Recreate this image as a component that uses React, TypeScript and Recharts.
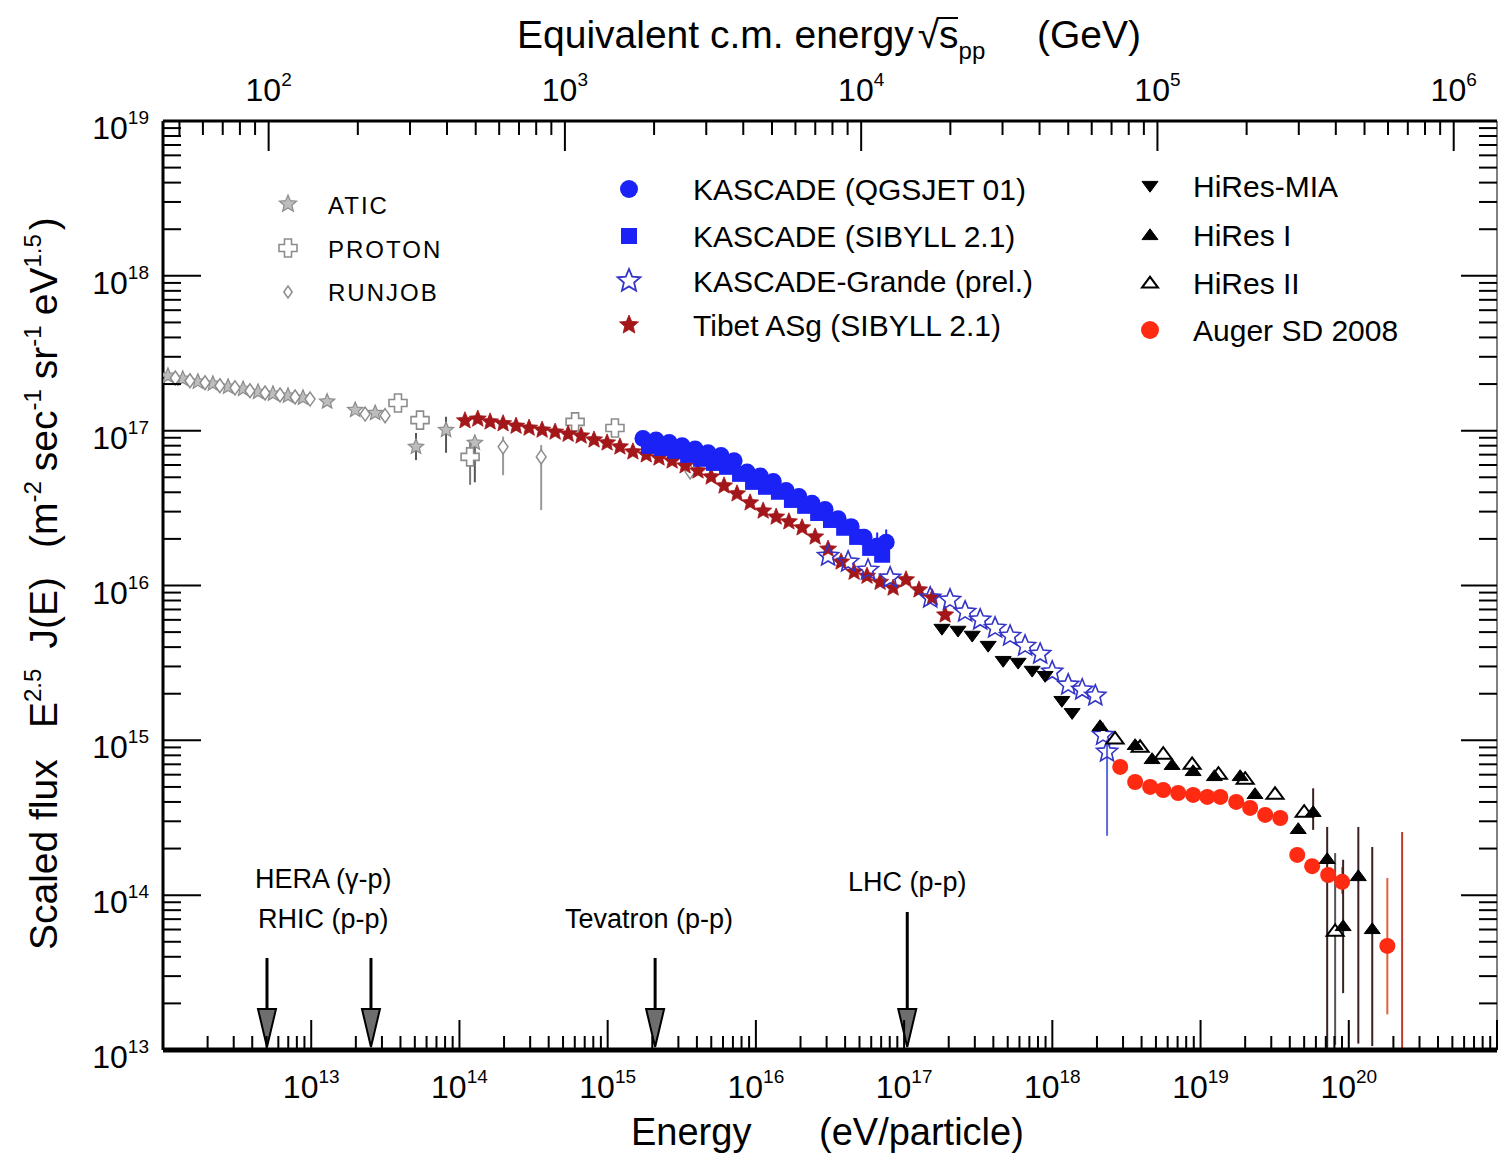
import React from 'react';
import { ScatterChart, Scatter, XAxis, YAxis, ErrorBar, ReferenceLine } from 'recharts';

const NARROW = '"Liberation Sans Narrow", "Liberation Sans", Arial, sans-serif';
const SANS = '"Liberation Sans", Arial, sans-serif';

// ---------------- data ----------------
const ATIC = [
  { e: 1.08e12, f: 2.26e17 }, { e: 1.36e12, f: 2.16e17 }, { e: 1.72e12, f: 2.07e17 },
  { e: 2.17e12, f: 2.01e17 }, { e: 2.75e12, f: 1.92e17 }, { e: 3.47e12, f: 1.86e17 },
  { e: 4.38e12, f: 1.78e17 }, { e: 5.52e12, f: 1.73e17 }, { e: 6.97e12, f: 1.68e17 },
  { e: 8.8e12, f: 1.63e17 }, { e: 1.28e13, f: 1.54e17 }, { e: 1.98e13, f: 1.36e17 },
  { e: 2.7e13, f: 1.3e17 },
  { e: 5.09e13, f: 7.86e16, err: [1.4e16, 1.8e16] },
  { e: 8.12e13, f: 1.01e17, err: [2.9e16, 2.2e16] },
  { e: 1.27e14, f: 8.34e16, err: [3.7e16, 0.8e16] },
];

const PROTON = [
  { e: 3.85e13, f: 1.51e17 }, { e: 5.42e13, f: 1.17e17 },
  { e: 1.18e14, f: 6.77e16, err: [2.3e16, 1.95e16] },
  { e: 6.03e14, f: 1.14e17 }, { e: 1.12e15, f: 1.04e17 },
];

const RUNJOB = [
  { e: 1.21e12, f: 2.19e17 }, { e: 1.52e12, f: 2.1e17 }, { e: 1.92e12, f: 2.04e17 },
  { e: 2.42e12, f: 1.95e17 }, { e: 3.06e12, f: 1.89e17 }, { e: 3.86e12, f: 1.81e17 },
  { e: 4.88e12, f: 1.75e17 }, { e: 6.16e12, f: 1.7e17 }, { e: 7.78e12, f: 1.65e17 },
  { e: 9.82e12, f: 1.6e17 }, { e: 2.31e13, f: 1.28e17 }, { e: 3.15e13, f: 1.25e17 },
  { e: 1.97e14, f: 7.86e16, err: [2.7e16, 1.3e16] },
  { e: 3.56e14, f: 6.77e16, err: [3.7e16, 1.3e16] },
  { e: 3.6e15, f: 5.42e16 },
];

const TIBET = [
  { e: 1.09e14, f: 1.16e17 }, { e: 1.33e14, f: 1.19e17 }, { e: 1.61e14, f: 1.14e17 },
  { e: 1.97e14, f: 1.11e17 }, { e: 2.41e14, f: 1.07e17 }, { e: 2.95e14, f: 1.04e17 },
  { e: 3.61e14, f: 1.01e17 }, { e: 4.42e14, f: 9.8e16 }, { e: 5.41e14, f: 9.5e16 },
  { e: 6.62e14, f: 9.25e16 }, { e: 8.09e14, f: 8.72e16 }, { e: 9.91e14, f: 8.34e16 },
  { e: 1.21e15, f: 7.86e16 }, { e: 1.48e15, f: 7.3e16 }, { e: 1.82e15, f: 6.98e16 },
  { e: 2.22e15, f: 6.67e16 }, { e: 2.72e15, f: 6.38e16 }, { e: 3.33e15, f: 5.93e16 },
  { e: 4.07e15, f: 5.5e16 }, { e: 4.99e15, f: 5.03e16 }, { e: 6.1e15, f: 4.4e16 },
  { e: 7.46e15, f: 3.91e16 }, { e: 9.14e15, f: 3.42e16 }, { e: 1.12e16, f: 3.03e16 },
  { e: 1.37e16, f: 2.77e16 }, { e: 1.67e16, f: 2.58e16 }, { e: 2.05e16, f: 2.36e16 },
  { e: 2.51e16, f: 2.06e16 }, { e: 3.07e16, f: 1.72e16 }, { e: 3.76e16, f: 1.42e16 },
  { e: 4.6e16, f: 1.22e16 }, { e: 5.62e16, f: 1.15e16 }, { e: 6.89e16, f: 1.05e16 },
  { e: 8.43e16, f: 9.64e15 }, { e: 1.03e17, f: 1.09e16 }, { e: 1.26e17, f: 9.37e15 },
  { e: 1.55e17, f: 8.32e15 }, { e: 1.89e17, f: 6.46e15 },
];

const KASCADE_QGS = [
  { e: 1.73e15, f: 8.9e16 }, { e: 2.12e15, f: 8.7e16 }, { e: 2.6e15, f: 8.4e16 },
  { e: 3.18e15, f: 8.0e16 }, { e: 3.89e15, f: 7.6e16 }, { e: 4.76e15, f: 7.2e16 },
  { e: 5.82e15, f: 6.9e16 }, { e: 7.13e15, f: 6.4e16 }, { e: 8.73e15, f: 5.4e16 },
  { e: 1.07e16, f: 5.1e16 }, { e: 1.31e16, f: 4.7e16 }, { e: 1.6e16, f: 4.1e16 },
  { e: 1.95e16, f: 3.75e16 }, { e: 2.39e16, f: 3.4e16 }, { e: 2.93e16, f: 3.1e16 },
  { e: 3.59e16, f: 2.7e16 }, { e: 4.39e16, f: 2.4e16 }, { e: 5.37e16, f: 2.05e16 },
  { e: 6.58e16, f: 1.8e16, err: [2e15, 4e15] }, { e: 7.57e16, f: 1.9e16, err: [3e15, 4e15] },
];

const KASCADE_SIB = [
  { e: 1.9e15, f: 7.98e16 }, { e: 2.33e15, f: 7.74e16 }, { e: 2.85e15, f: 7.41e16 },
  { e: 3.49e15, f: 6.98e16 }, { e: 4.27e15, f: 6.58e16 }, { e: 5.22e15, f: 6.19e16 },
  { e: 6.39e15, f: 5.84e16 }, { e: 7.82e15, f: 5.26e16 }, { e: 9.57e15, f: 4.67e16 },
  { e: 1.17e16, f: 4.34e16 }, { e: 1.43e16, f: 4.03e16 }, { e: 1.75e16, f: 3.57e16 },
  { e: 2.15e16, f: 3.27e16 }, { e: 2.63e16, f: 2.94e16 }, { e: 3.21e16, f: 2.65e16 },
  { e: 3.94e16, f: 2.36e16 }, { e: 4.82e16, f: 2.06e16 }, { e: 5.9e16, f: 1.75e16 },
  { e: 7.11e16, f: 1.58e16 },
];

const GRANDE = [
  { e: 3.07e16, f: 1.55e16 }, { e: 4.19e16, f: 1.42e16 }, { e: 5.71e16, f: 1.26e16 },
  { e: 8.05e16, f: 1.12e16 }, { e: 1.5e17, f: 8.32e15 }, { e: 2.04e17, f: 8.07e15 },
  { e: 2.58e17, f: 6.75e15 }, { e: 3.26e17, f: 6.0e15 }, { e: 4.11e17, f: 5.32e15 },
  { e: 5.19e17, f: 4.72e15 }, { e: 6.55e17, f: 4.07e15 }, { e: 8.28e17, f: 3.61e15 },
  { e: 9.98e17, f: 2.77e15 }, { e: 1.28e18, f: 2.28e15 }, { e: 1.59e18, f: 2.12e15 },
  { e: 1.95e18, f: 1.94e15 }, { e: 2.2e18, f: 1.08e15 },
  { e: 2.34e18, f: 8.42e14, err: [6.0e14, 1.0e14] },
];

const HIRES_MIA = [
  { e: 1.8e17, f: 5.32e15 }, { e: 2.31e17, f: 5.17e15 }, { e: 2.88e17, f: 4.8e15 },
  { e: 3.69e17, f: 4.13e15 }, { e: 4.66e17, f: 3.3e15 }, { e: 5.88e17, f: 3.21e15 },
  { e: 7.31e17, f: 2.85e15 }, { e: 8.94e17, f: 2.64e15 }, { e: 1.16e18, f: 1.82e15 },
  { e: 1.36e18, f: 1.52e15 },
];

const HIRES_1 = [
  { e: 2.1e18, f: 1.22e15 }, { e: 3.62e18, f: 9.2e14 }, { e: 4.71e18, f: 7.47e14 },
  { e: 6.43e18, f: 6.84e14 }, { e: 8.91e18, f: 6.25e14 }, { e: 1.24e19, f: 5.8e14 },
  { e: 1.85e19, f: 5.8e14 }, { e: 2.33e19, f: 4.44e14 }, { e: 4.56e19, f: 2.64e14 },
  { e: 5.75e19, f: 3.4e14, err: [7.6e13, 1.5e14] },
  { e: 7.15e19, f: 1.69e14, err: [1.59e14, 1.07e14] },
  { e: 9.16e19, f: 6.23e13, err: [3.9e13, 1.07e14] },
  { e: 1.16e20, f: 1.31e14, err: [1.2e14, 1.45e14] },
  { e: 1.44e20, f: 5.96e13, err: [4.9e13, 1.45e14] },
];

const HIRES_2 = [
  { e: 2.65e18, f: 1.01e15 }, { e: 3.91e18, f: 8.93e14 }, { e: 5.6e18, f: 8.05e14 },
  { e: 8.77e18, f: 6.93e14 }, { e: 1.32e19, f: 5.98e14 }, { e: 2.0e19, f: 5.55e14 },
  { e: 3.18e19, f: 4.44e14 }, { e: 5.0e19, f: 3.4e14 },
  { e: 8.09e19, f: 5.78e13, err: [4.7e13, 1.29e14] },
];

const AUGER = [
  { e: 2.87e18, f: 6.73e14 }, { e: 3.62e18, f: 5.38e14 }, { e: 4.57e18, f: 5.0e14 },
  { e: 5.6e18, f: 4.78e14 }, { e: 7.06e18, f: 4.57e14 }, { e: 8.91e18, f: 4.44e14 },
  { e: 1.11e19, f: 4.31e14 }, { e: 1.36e19, f: 4.31e14 }, { e: 1.74e19, f: 4.0e14 },
  { e: 2.16e19, f: 3.66e14 }, { e: 2.73e19, f: 3.3e14 }, { e: 3.45e19, f: 3.15e14 },
  { e: 4.49e19, f: 1.82e14 }, { e: 5.66e19, f: 1.54e14 }, { e: 7.26e19, f: 1.35e14 },
  { e: 9.02e19, f: 1.22e14, err: [2.0e13, 3.0e13] },
  { e: 1.82e20, f: 4.7e13, err: [3.0e13, 8.2e13] },
];

// Auger upper-limit bar whose point lies below the plotted range
const AUGER_LIMIT = [{ e: 2.29e20, f: 1.0e13, err: [0, 2.46e14] }];

// accelerator reference energies (eV) and arrow tops
const COLLIDERS = [
  { name: 'HERA', e: 5.03e12, top: 3.93e13 },
  { name: 'RHIC', e: 2.53e13, top: 3.93e13 },
  { name: 'Tevatron', e: 2.09e15, top: 3.93e13 },
  { name: 'LHC', e: 1.05e17, top: 7.79e13 },
];

// axis ranges / ticks
const X_DOMAIN = [1e12, 1e21];
const Y_DOMAIN = [1e13, 1e19];
const TOP_DOMAIN = [44, 1.4e6]; // sqrt(s_pp) in GeV matching the energy range
const TOP_RANGE = [{ s: 44, f: 1e13 }, { s: 1.4e6, f: 1e13 }];
const X_DECADES = [1e12, 1e13, 1e14, 1e15, 1e16, 1e17, 1e18, 1e19, 1e20, 1e21];
const Y_DECADES = [1e13, 1e14, 1e15, 1e16, 1e17, 1e18, 1e19];
const TOP_DECADES = [10, 1e2, 1e3, 1e4, 1e5, 1e6];
const X_LABELED = [13, 14, 15, 16, 17, 18, 19, 20];
const Y_LABELED = [13, 14, 15, 16, 17, 18, 19];
const TOP_LABELED = [2, 3, 4, 5, 6];
const MINOR = [1, 2, 3, 4, 5, 6, 7, 8, 9];

const withMinors = (decades: number[], lo: number, hi: number) => {
  const out: number[] = [];
  decades.forEach((d) => MINOR.forEach((m) => {
    const v = d * m;
    if (v >= lo * 0.9999 && v <= hi * 1.0001) out.push(v);
  }));
  return out;
};
const X_TICKS = withMinors(X_DECADES, X_DOMAIN[0], X_DOMAIN[1]);
const Y_TICKS = withMinors(Y_DECADES, Y_DOMAIN[0], Y_DOMAIN[1]);
const TOP_TICKS = withMinors(TOP_DECADES, TOP_DOMAIN[0], TOP_DOMAIN[1]);

const expOf = (v: number) => {
  const l = Math.log10(v);
  const r = Math.round(l);
  return Math.abs(l - r) < 1e-6 ? r : null;
};

// ---------------- markers ----------------
const starPts = (cx: number, cy: number, R: number, r: number) => {
  const p: string[] = [];
  for (let i = 0; i < 10; i++) {
    const a = -Math.PI / 2 + (i * Math.PI) / 5;
    const rad = i % 2 === 0 ? R : r;
    p.push(`${(cx + rad * Math.cos(a)).toFixed(2)},${(cy + rad * Math.sin(a)).toFixed(2)}`);
  }
  return p.join(' ');
};
const Star = ({ cx, cy, R, fill, stroke, sw }: any) => (
  <polygon points={starPts(cx, cy, R, R * 0.45)} fill={fill} stroke={stroke} strokeWidth={sw} />
);
const Plus = ({ cx, cy, L, w, stroke }: any) => {
  const pts = [
    [cx - w, cy - L], [cx + w, cy - L], [cx + w, cy - w], [cx + L, cy - w], [cx + L, cy + w],
    [cx + w, cy + w], [cx + w, cy + L], [cx - w, cy + L], [cx - w, cy + w], [cx - L, cy + w],
    [cx - L, cy - w], [cx - w, cy - w],
  ].map((q) => q.join(',')).join(' ');
  return <polygon points={pts} fill="#fff" stroke={stroke} strokeWidth={1.6} />;
};
const Diamond = ({ cx, cy, s, stroke }: any) => (
  <polygon points={`${cx},${cy - s} ${cx + s * 0.7},${cy} ${cx},${cy + s} ${cx - s * 0.7},${cy}`} fill="#fff" stroke={stroke} strokeWidth={1.5} />
);
const Tri = ({ cx, cy, s, down, fill, stroke, sw }: any) => {
  const h = s * 0.9;
  const pts = down
    ? `${cx - s},${cy - h * 0.5} ${cx + s},${cy - h * 0.5} ${cx},${cy + h}`
    : `${cx - s},${cy + h * 0.5} ${cx + s},${cy + h * 0.5} ${cx},${cy - h}`;
  return <polygon points={pts} fill={fill} stroke={stroke} strokeWidth={sw} strokeLinejoin="miter" />;
};

const GRAY = '#8c8c8c';
const TIBET_RED = '#a3161a';
const KBLUE = '#1a22f5';
const GBLUE = '#3434c8';
const AUGER_RED = '#ff2a12';

const mAtic = (p: any) => <Star cx={p.cx} cy={p.cy} R={8} fill="#bdbdbd" stroke={GRAY} sw={1.2} />;
const mProton = (p: any) => <Plus cx={p.cx} cy={p.cy} L={9} w={3.5} stroke={GRAY} />;
const mRunjob = (p: any) => <Diamond cx={p.cx} cy={p.cy} s={7} stroke={GRAY} />;
const mTibet = (p: any) => <Star cx={p.cx} cy={p.cy} R={9} fill={TIBET_RED} stroke={TIBET_RED} sw={0.8} />;
const mKqgs = (p: any) => <circle cx={p.cx} cy={p.cy} r={8.5} fill={KBLUE} />;
const mKsib = (p: any) => <rect x={p.cx - 8} y={p.cy - 8} width={16} height={16} fill={KBLUE} />;
const mGrande = (p: any) => <Star cx={p.cx} cy={p.cy} R={11} fill="none" stroke={GBLUE} sw={1.6} />;
const mMia = (p: any) => <Tri cx={p.cx} cy={p.cy} s={8} down fill="#000" stroke="#000" sw={1} />;
const mHr1 = (p: any) => <Tri cx={p.cx} cy={p.cy} s={8} fill="#000" stroke="#000" sw={1} />;
const mHr2 = (p: any) => <Tri cx={p.cx} cy={p.cy} s={8.5} fill="#fff" stroke="#000" sw={2} />;
const mAuger = (p: any) => <circle cx={p.cx} cy={p.cy} r={8} fill={AUGER_RED} />;
const mNone = () => <g />;

// ---------------- ticks ----------------
const TickText = ({ x, y, exp, anchor }: any) => (
  <text x={x} y={y} textAnchor={anchor} fontFamily={NARROW} fontSize={32} fill="#000">
    10<tspan dy={-15} fontSize={19}>{exp}</tspan>
  </text>
);

const BottomTick = (props: any) => {
  const { x, y, payload } = props;
  const ex = expOf(payload.value);
  return (
    <g>
      <line x1={x} x2={x} y1={y} y2={y - (ex !== null ? 30 : 14)} stroke="#000" strokeWidth={2} />
      {ex !== null && X_LABELED.includes(ex) && <TickText x={x} y={y + 48} exp={ex} anchor="middle" />}
    </g>
  );
};
const TopTick = (props: any) => {
  const { x, y, payload } = props;
  const ex = expOf(payload.value);
  return (
    <g>
      <line x1={x} x2={x} y1={y} y2={y + (ex !== null ? 30 : 14)} stroke="#000" strokeWidth={2} />
      {ex !== null && TOP_LABELED.includes(ex) && <TickText x={x} y={y - 20} exp={ex} anchor="middle" />}
    </g>
  );
};
const LeftTick = (props: any) => {
  const { x, y, payload } = props;
  const ex = expOf(payload.value);
  return (
    <g>
      <line x1={x} x2={x + (ex !== null ? 38 : 18)} y1={y} y2={y} stroke="#000" strokeWidth={2} />
      {ex !== null && Y_LABELED.includes(ex) && <TickText x={x - 14} y={y + 18} exp={ex} anchor="end" />}
    </g>
  );
};
const RightTick = (props: any) => {
  const { x, y, payload } = props;
  const ex = expOf(payload.value);
  return <line x1={x} x2={x - (ex !== null ? 36 : 18)} y1={y} y2={y} stroke="#000" strokeWidth={2} />;
};

const Arrow = (props: any) => {
  const { x1, y1, y2 } = props;
  const top = Math.min(y1, y2);
  const tip = Math.max(y1, y2) - 3;
  const hl = 38;
  const hw = 9;
  return (
    <g>
      <line x1={x1} x2={x1} y1={top} y2={tip - hl + 2} stroke="#000" strokeWidth={3} />
      <polygon points={`${x1 - hw},${tip - hl} ${x1 + hw},${tip - hl} ${x1},${tip}`} fill="#6e6e6e" stroke="#000" strokeWidth={2} />
    </g>
  );
};

// ---------------- overlay (titles, legend, labels) ----------------
const SUP = 24;
const Overlay = () => (
  <svg width={1501} height={1155} style={{ position: 'absolute', left: 0, top: 0, pointerEvents: 'none' }}>
    {/* top title */}
    <text x={517} y={48} fontFamily={SANS} fontSize={39} fill="#000">
      Equivalent c.m. energy
      <tspan dx={4}>√</tspan>
      <tspan>s</tspan>
      <tspan dy={11} fontSize={24}>pp</tspan>
    </text>
    <text x={1037} y={48} fontFamily={SANS} fontSize={39} fill="#000">(GeV)</text>
    <line x1={937} x2={958} y1={18} y2={18} stroke="#000" strokeWidth={2} />
    {/* bottom title */}
    <text x={631} y={1145} fontFamily={SANS} fontSize={38} fill="#000">Energy</text>
    <text x={819} y={1145} fontFamily={SANS} fontSize={38} fill="#000">(eV/particle)</text>
    {/* y title */}
    <g transform="translate(57,950) rotate(-90)">
      <text x={0} y={0} fontFamily={SANS} fontSize={39} fill="#000">Scaled flux</text>
      <text x={222} y={0} fontFamily={SANS} fontSize={39} fill="#000">
        E<tspan dy={-16} fontSize={SUP}>2.5</tspan>
        <tspan dy={16} dx={20}>J(E)</tspan>
      </text>
      <text x={402} y={0} fontFamily={SANS} fontSize={39} fill="#000">
        (m<tspan dy={-16} fontSize={SUP}>-2</tspan>
        <tspan dy={16} dx={10}>sec</tspan>
        <tspan dy={-16} fontSize={SUP}>-1</tspan>
        <tspan dy={16} dx={10}>sr</tspan>
        <tspan dy={-16} fontSize={SUP}>-1</tspan>
        <tspan dy={16} dx={10}>eV</tspan>
        <tspan dy={-16} fontSize={SUP}>1.5</tspan>
        <tspan dy={16} dx={4}>)</tspan>
      </text>
    </g>
    {/* collider labels */}
    <text x={255} y={888} fontFamily={NARROW} fontSize={27} fill="#000">HERA (γ-p)</text>
    <text x={258} y={928} fontFamily={NARROW} fontSize={27} fill="#000">RHIC (p-p)</text>
    <text x={565} y={928} fontFamily={NARROW} fontSize={27} fill="#000">Tevatron (p-p)</text>
    <text x={848} y={891} fontFamily={NARROW} fontSize={27} fill="#000">LHC (p-p)</text>
    {/* legend 1 */}
    <Star cx={288} cy={204} R={9} fill="#bdbdbd" stroke={GRAY} sw={1.2} />
    <text x={328} y={214} fontFamily={SANS} fontSize={24} letterSpacing={2} fill="#000">ATIC</text>
    <Plus cx={288} cy={248} L={9} w={3.5} stroke={GRAY} />
    <text x={328} y={258} fontFamily={SANS} fontSize={24} letterSpacing={2} fill="#000">PROTON</text>
    <Diamond cx={288} cy={292} s={6} stroke={GRAY} />
    <text x={328} y={301} fontFamily={SANS} fontSize={24} letterSpacing={2} fill="#000">RUNJOB</text>
    {/* legend 2 */}
    <circle cx={629} cy={189} r={9} fill={KBLUE} />
    <text x={693} y={200} fontFamily={SANS} fontSize={30} fill="#000">KASCADE (QGSJET 01)</text>
    <rect x={621} y={228} width={16} height={16} fill={KBLUE} />
    <text x={693} y={247} fontFamily={SANS} fontSize={30} fill="#000">KASCADE (SIBYLL 2.1)</text>
    <Star cx={629} cy={281} R={12} fill="none" stroke={GBLUE} sw={1.8} />
    <text x={693} y={292} fontFamily={SANS} fontSize={30} fill="#000">KASCADE-Grande (prel.)</text>
    <Star cx={629} cy={325} R={10} fill={TIBET_RED} stroke={TIBET_RED} sw={0.8} />
    <text x={693} y={336} fontFamily={SANS} fontSize={30} fill="#000">Tibet ASg (SIBYLL 2.1)</text>
    {/* legend 3 */}
    <Tri cx={1150} cy={185} s={8} down fill="#000" stroke="#000" sw={1} />
    <text x={1193} y={197} fontFamily={SANS} fontSize={30} fill="#000">HiRes-MIA</text>
    <Tri cx={1150} cy={236} s={8} fill="#000" stroke="#000" sw={1} />
    <text x={1193} y={246} fontFamily={SANS} fontSize={30} fill="#000">HiRes I</text>
    <Tri cx={1150} cy={284} s={8} fill="#fff" stroke="#000" sw={2} />
    <text x={1193} y={294} fontFamily={SANS} fontSize={30} fill="#000">HiRes II</text>
    <circle cx={1150} cy={330} r={9} fill={AUGER_RED} />
    <text x={1193} y={341} fontFamily={SANS} fontSize={30} fill="#000">Auger SD 2008</text>
  </svg>
);

export default function App() {
  return (
    <div style={{ position: 'absolute', left: 0, top: 0, width: 1501, height: 1155, background: '#fff' }}>
      <ScatterChart width={1501} height={1155} margin={{ top: 61, right: 0, bottom: 45, left: 63 }}>
        <XAxis
          xAxisId="bottom"
          dataKey="e"
          type="number"
          scale="log"
          domain={X_DOMAIN}
          allowDataOverflow
          ticks={X_TICKS}
          interval={0}
          tick={BottomTick}
          tickSize={0}
          tickMargin={0}
          tickLine={false}
          axisLine={{ stroke: '#000', strokeWidth: 5 }}
          height={60}
        />
        <XAxis
          xAxisId="top"
          dataKey="s"
          orientation="top"
          type="number"
          scale="log"
          domain={TOP_DOMAIN}
          allowDataOverflow
          ticks={TOP_TICKS}
          interval={0}
          tick={TopTick}
          tickSize={0}
          tickMargin={0}
          tickLine={false}
          axisLine={{ stroke: '#000', strokeWidth: 3 }}
          height={60}
        />
        <YAxis
          yAxisId="left"
          dataKey="f"
          type="number"
          scale="log"
          domain={Y_DOMAIN}
          allowDataOverflow
          ticks={Y_TICKS}
          interval={0}
          tick={LeftTick}
          tickSize={0}
          tickMargin={0}
          tickLine={false}
          axisLine={{ stroke: '#000', strokeWidth: 3 }}
          width={100}
        />
        <YAxis
          yAxisId="right"
          dataKey="f"
          orientation="right"
          type="number"
          scale="log"
          domain={Y_DOMAIN}
          allowDataOverflow
          ticks={Y_TICKS}
          interval={0}
          tick={RightTick}
          tickSize={0}
          tickMargin={0}
          tickLine={false}
          axisLine={{ stroke: '#000', strokeWidth: 1 }}
          width={4}
        />

        <Scatter name="sqrt-s range" data={TOP_RANGE} xAxisId="top" yAxisId="right" shape={mNone} isAnimationActive={false} />

        {COLLIDERS.map((c) => (
          <ReferenceLine
            key={c.name}
            xAxisId="bottom"
            yAxisId="left"
            segment={[{ x: c.e, y: c.top }, { x: c.e, y: Y_DOMAIN[0] }]}
            shape={Arrow}
            ifOverflow="visible"
          />
        ))}

        <Scatter name="ATIC" data={ATIC} xAxisId="bottom" yAxisId="left" shape={mAtic} isAnimationActive={false}>
          <ErrorBar dataKey="err" direction="y" width={0} stroke="#555" strokeWidth={2} isAnimationActive={false} />
        </Scatter>
        <Scatter name="RUNJOB" data={RUNJOB} xAxisId="bottom" yAxisId="left" shape={mRunjob} isAnimationActive={false}>
          <ErrorBar dataKey="err" direction="y" width={0} stroke="#999" strokeWidth={2} isAnimationActive={false} />
        </Scatter>
        <Scatter name="PROTON" data={PROTON} xAxisId="bottom" yAxisId="left" shape={mProton} isAnimationActive={false}>
          <ErrorBar dataKey="err" direction="y" width={0} stroke="#777" strokeWidth={2} isAnimationActive={false} />
        </Scatter>
        <Scatter name="Tibet ASg (SIBYLL 2.1)" data={TIBET} xAxisId="bottom" yAxisId="left" shape={mTibet} isAnimationActive={false} />
        <Scatter name="KASCADE (QGSJET 01)" data={KASCADE_QGS} xAxisId="bottom" yAxisId="left" shape={mKqgs} isAnimationActive={false}>
          <ErrorBar dataKey="err" direction="y" width={0} stroke={KBLUE} strokeWidth={2} isAnimationActive={false} />
        </Scatter>
        <Scatter name="KASCADE (SIBYLL 2.1)" data={KASCADE_SIB} xAxisId="bottom" yAxisId="left" shape={mKsib} isAnimationActive={false} />
        <Scatter name="KASCADE-Grande (prel.)" data={GRANDE} xAxisId="bottom" yAxisId="left" shape={mGrande} isAnimationActive={false}>
          <ErrorBar dataKey="err" direction="y" width={0} stroke="#5a6ad8" strokeWidth={2} isAnimationActive={false} />
        </Scatter>
        <Scatter name="HiRes-MIA" data={HIRES_MIA} xAxisId="bottom" yAxisId="left" shape={mMia} isAnimationActive={false} />
        <Scatter name="Auger SD 2008" data={AUGER} xAxisId="bottom" yAxisId="left" shape={mAuger} isAnimationActive={false}>
          <ErrorBar dataKey="err" direction="y" width={0} stroke="#e0603a" strokeWidth={2} isAnimationActive={false} />
        </Scatter>
        <Scatter name="Auger limit" data={AUGER_LIMIT} xAxisId="bottom" yAxisId="left" shape={mNone} isAnimationActive={false}>
          <ErrorBar dataKey="err" direction="y" width={0} stroke="#c0392b" strokeWidth={2} isAnimationActive={false} />
        </Scatter>
        <Scatter name="HiRes II" data={HIRES_2} xAxisId="bottom" yAxisId="left" shape={mHr2} isAnimationActive={false}>
          <ErrorBar dataKey="err" direction="y" width={0} stroke="#555" strokeWidth={2} isAnimationActive={false} />
        </Scatter>
        <Scatter name="HiRes I" data={HIRES_1} xAxisId="bottom" yAxisId="left" shape={mHr1} isAnimationActive={false}>
          <ErrorBar dataKey="err" direction="y" width={0} stroke="#3a2020" strokeWidth={2} isAnimationActive={false} />
        </Scatter>
      </ScatterChart>
      <Overlay />
    </div>
  );
}
